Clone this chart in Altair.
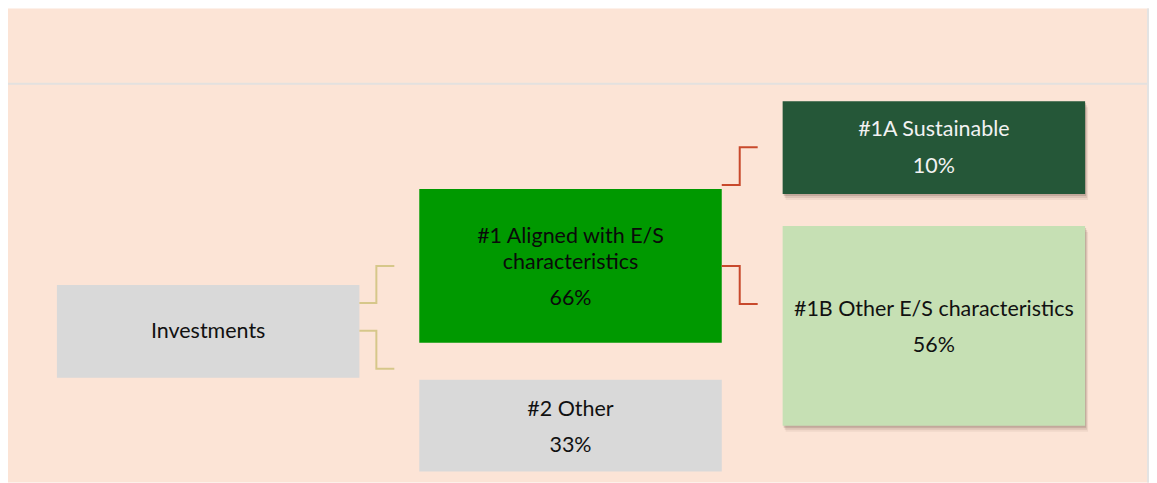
import altair as alt
import pandas as pd

# ---- content -------------------------------------------------------------
box_ids = ["inv", "aligned", "other", "sust", "otherES"]
box_title_lines = [
    ["Investments"],
    ["#1 Aligned with E/S", "characteristics"],
    ["#2 Other"],
    ["#1A Sustainable"],
    ["#1B Other E/S characteristics"],
]
box_shares = [None, 66, 33, 10, 56]

# ---- layout (reference pixel coordinates) --------------------------------
W, H = 1143, 475          # chart size; page margin puts its origin at (8, 8)
OX, OY = 8, 8
box_x0 = [57, 420, 420, 784, 784]
box_x1 = [360, 723, 723, 1087, 1087]
box_y0 = [285, 189, 380, 101, 226]
box_y1 = [378, 343, 472, 194, 426]
box_fill = ["#D9D9D9", "#009900", "#D9D9D9", "#255738", "#C6E0B4"]
box_text = ["#111111", "#0a0a0a", "#111111", "#F2F2F2", "#111111"]
box_shadow = [False, False, False, True, True]
box_baselines = [[338], [242.5, 269.5, 305.5], [416, 452], [135.5, 172.5], [316, 352]]
box_cx = [(a + b) / 2 for a, b in zip(box_x0, box_x1)]

connectors = {
    "tan_up": ("#D6C78A", [(360, 303), (377, 303), (377, 266), (395, 266)]),
    "tan_dn": ("#D6C78A", [(360, 331), (377, 331), (377, 369), (395, 369)]),
    "red_up": ("#C8492C", [(723, 185), (741, 185), (741, 147), (759, 147)]),
    "red_dn": ("#C8492C", [(723, 266), (741, 266), (741, 304), (759, 304)]),
}

xs = alt.Scale(domain=[OX, OX + W], range=[0, W], nice=False, zero=False)
ys = alt.Scale(domain=[OY, OY + H], range=[0, H], nice=False, zero=False)

# ---- tables ---------------------------------------------------------------
boxes = pd.DataFrame({
    "id": box_ids, "x0": box_x0, "x1": box_x1, "y0": box_y0, "y1": box_y1,
    "fill": box_fill,
})

shadow_rows = []
for i, s in enumerate(box_shadow):
    if not s:
        continue
    for k, (dx, dy, op) in enumerate([(3, 6, 0.07), (2, 4, 0.12), (1, 2, 0.2)]):
        shadow_rows.append({"x0": box_x0[i] + dx, "x1": box_x1[i] + dx,
                            "y0": box_y0[i] + dy, "y1": box_y1[i] + dy,
                            "op": op, "k": k})
shadows = pd.DataFrame(shadow_rows)

text_rows = []
for i in range(len(box_ids)):
    lines = list(box_title_lines[i])
    if box_shares[i] is not None:
        lines.append(f"{box_shares[i]}%")
    for ln, yb in zip(lines, box_baselines[i]):
        text_rows.append({"x": box_cx[i], "y": yb, "label": ln, "color": box_text[i]})
texts = pd.DataFrame(text_rows)

line_rows = []
for cid, (col, pts) in connectors.items():
    for j, (px, py) in enumerate(pts):
        line_rows.append({"id": cid, "ord": j, "x": px, "y": py, "color": col})
lines_df = pd.DataFrame(line_rows)

grid = pd.DataFrame({"x0": [OX], "x1": [1150], "y": [83.5]})
border = pd.DataFrame({"x": [1150], "y0": [OY], "y1": [OY + H]})

# ---- layers ---------------------------------------------------------------
shadow_layer = alt.Chart(shadows).mark_rect(color="#5a3e30").encode(
    x=alt.X("x0:Q", scale=xs, axis=None), x2="x1:Q",
    y=alt.Y("y0:Q", scale=ys, axis=None), y2="y1:Q",
    opacity=alt.Opacity("op:Q", scale=None),
)

box_layer = alt.Chart(boxes).mark_rect().encode(
    x=alt.X("x0:Q", scale=xs, axis=None), x2="x1:Q",
    y=alt.Y("y0:Q", scale=ys, axis=None), y2="y1:Q",
    color=alt.Color("fill:N", scale=None),
)

grid_layer = alt.Chart(grid).mark_rule(color="#E3E1DF", strokeWidth=2).encode(
    x=alt.X("x0:Q", scale=xs, axis=None), x2="x1:Q",
    y=alt.Y("y:Q", scale=ys, axis=None),
)

border_layer = alt.Chart(border).mark_rule(color="#E3E3E3", strokeWidth=2).encode(
    x=alt.X("x:Q", scale=xs, axis=None),
    y=alt.Y("y0:Q", scale=ys, axis=None), y2="y1:Q",
)

line_layer = alt.Chart(lines_df).mark_line(strokeWidth=2, strokeJoin="miter").encode(
    x=alt.X("x:Q", scale=xs, axis=None),
    y=alt.Y("y:Q", scale=ys, axis=None),
    detail="id:N", order="ord:Q",
    color=alt.Color("color:N", scale=None),
)

text_layer = alt.Chart(texts).mark_text(
    font="Lato", fontSize=21.5, align="center", baseline="alphabetic"
).encode(
    x=alt.X("x:Q", scale=xs, axis=None),
    y=alt.Y("y:Q", scale=ys, axis=None),
    text="label:N",
    color=alt.Color("color:N", scale=None),
)

chart = alt.layer(
    grid_layer, border_layer, shadow_layer, box_layer, line_layer, text_layer
).properties(
    width=W, height=H, padding=0, autosize="none", background="white"
).configure_view(stroke=None, fill="#FCE4D6")

chart.save("out.html", embed_options={"renderer": "svg", "actions": False})
